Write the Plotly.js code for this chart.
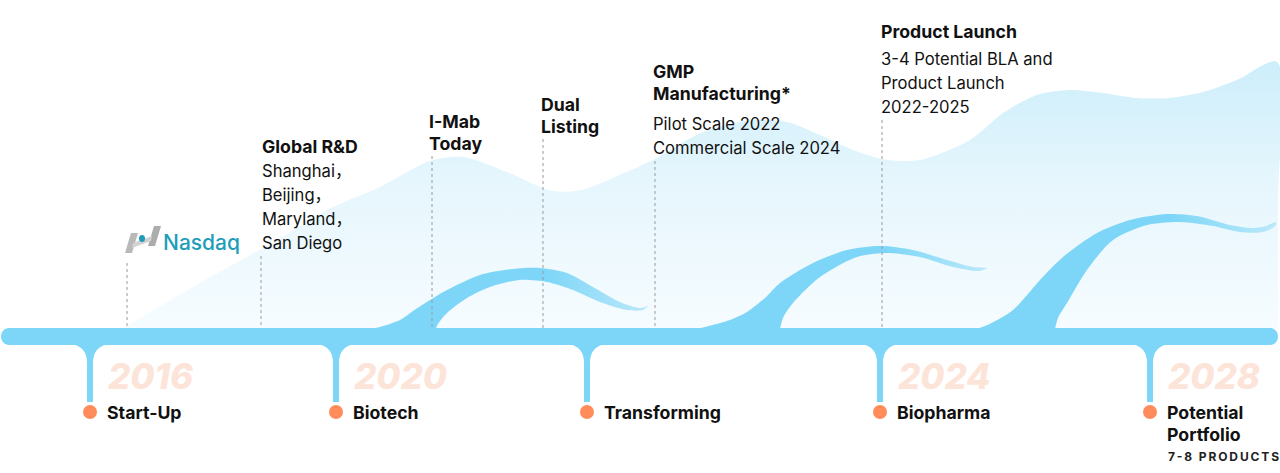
<!DOCTYPE html>
<html>
<head>
<meta charset="utf-8">
<script src="https://cdn.plot.ly/plotly-3.0.1.min.js"></script>
<style>html,body{margin:0;padding:0;background:#fff;}#chart{width:1280px;height:473px;}</style>
</head>
<body>
<div id="chart"></div>
<script>
// ---------------- DATA ----------------
// Timeline stages (below the bar)
const stageYears = ['2016', '2020', '', '2024', '2028'];
const stageNames = [['Start-Up'], ['Biotech'], ['Transforming'], ['Biopharma'], ['Potential', 'Portfolio']];
const stageNotes = ['', '', '', '', '7-8 PRODUCTS'];
const stageAt    = [90, 336, 587, 880, 1150];          // position along the timeline

// Milestones (above the bar)
const eventAt      = [127, 261, 432, 543, 655, 882];   // position along the timeline
const eventTitles  = [[], ['Global R&amp;D'], ['I-Mab', 'Today'], ['Dual', 'Listing'], ['GMP', 'Manufacturing*'], ['Product Launch']];
const eventDetails = [[], ['Shanghai，', 'Beijing，', 'Maryland，', 'San Diego'], [], [], ['Pilot Scale 2022', 'Commercial Scale 2024'], ['3-4 Potential BLA and', 'Product Launch', '2022-2025']];
const eventLogo    = ['Nasdaq', '', '', '', '', ''];

// Background growth wave (top edge)
const waveX = [120, 200, 270, 333, 380, 430, 463, 507, 553, 582, 615, 653, 703, 753, 787, 820, 853, 887, 920, 970, 1003, 1037, 1070, 1103, 1137, 1170, 1203, 1237, 1277];
const waveY = [330, 283, 244, 207, 187, 161, 157, 172, 191, 190, 177, 160, 132, 120, 122, 135, 150, 160, 160, 140, 113, 95, 90, 93, 98, 98, 92, 80, 62];

// Ribbons rising from the timeline (upper edge, then lower edge back)
const ribbon1X = [350, 380, 400, 413, 430, 447, 480, 513, 540, 567, 593, 620, 640, 648, 643, 627, 600, 573, 547, 520, 490, 467, 447, 438, 434];
const ribbon1Y = [333, 327, 320, 311, 300, 290, 275, 269, 268, 273, 287, 302, 308, 306, 310, 310, 302, 290, 282, 280, 287, 298, 313, 324, 334];
const ribbon2X = [680, 705, 730, 747, 765, 780, 813, 847, 880, 913, 947, 973, 987, 980, 953, 920, 887, 857, 820, 793, 783, 779];
const ribbon2Y = [333, 327, 320, 312, 298, 283, 263, 250, 246, 250, 260, 267, 268, 271, 267, 257, 253, 257, 277, 303, 318, 334];
const ribbon3X = [960, 985, 1013, 1040, 1063, 1097, 1130, 1167, 1197, 1230, 1253, 1266, 1276, 1275, 1263, 1240, 1213, 1180, 1147, 1113, 1087, 1067, 1058, 1054];
const ribbon3Y = [333, 326, 310, 280, 257, 233, 220, 214, 216, 225, 228, 226, 222, 226, 232, 232, 226, 222, 225, 240, 270, 303, 318, 334];

// ---------------- STYLE / LAYOUT CONSTANTS ----------------
const BAR_TOP = 328, BAR_BOT = 345, BAR_L = 1, BAR_R = 1278;
const STEM_BOT = 402, DOT_Y = 412, YEAR_Y = 376;
const BLUE = '#7DD6F7', ORANGE = '#FF8C5A', INK = '#111111', YEAR_C = '#FDE4D8';
const FONT = 'Inter, "Noto Sans", "Noto Sans CJK SC", sans-serif';
const eventTop    = [null, 146, 121, 104, 71, 31];     // y of first title line per milestone
const eventDetTop = [null, 171, null, null, 124, 59];  // y of first detail line per milestone
const eventDx     = [0, 0, -4, -3, -3, -2];            // text offset from leader line
const TITLE_LH = 22, DETAIL_LH = 24;
const HEAD_SIZE = 17.7, BODY_SIZE = 16.6, STAGE_SIZE = 17.7;

const traces = [];
const shapes = [];
const annotations = [];

function txt(x, y, text, size, weight, color, style) {
  annotations.push({
    x: x, y: y, xref: 'x', yref: 'y', text: text, showarrow: false,
    xanchor: 'left', yanchor: 'middle', borderpad: 0,
    font: {family: FONT, size: size, weight: weight, color: color, style: style || 'normal'}
  });
}

// Background wave
traces.push({
  x: waveX.concat([1278, 1278]), y: waveY.concat([200, 330]),
  mode: 'lines', fill: 'toself', line: {width: 0, shape: 'spline', smoothing: 0.8},
  fillcolor: '#E4F5FD',
  fillgradient: {type: 'vertical', start: 60, stop: 330, colorscale: [[0, '#CCEEFB'], [0.45, '#E6F6FD'], [1, '#F6FCFF']]},
  hoverinfo: 'skip'
});

// Ribbons
[[ribbon1X, ribbon1Y, 545, 650], [ribbon2X, ribbon2Y, 885, 988], [ribbon3X, ribbon3Y, 1170, 1277]].forEach(function (r) {
  traces.push({
    x: r[0], y: r[1], mode: 'lines', fill: 'toself',
    line: {width: 0, shape: 'spline', smoothing: 0.8},
    fillcolor: BLUE,
    fillgradient: {type: 'horizontal', start: r[2], stop: r[3], colorscale: [[0, BLUE], [1, '#BCE9FA']]},
    hoverinfo: 'skip'
  });
});

// Main timeline bar with rounded ends
const rr = (BAR_BOT - BAR_TOP) / 2, k = rr * 1.33;
const cL = BAR_L + rr, cR = BAR_R - rr;
shapes.push({
  type: 'path', xref: 'x', yref: 'y', layer: 'above', line: {width: 0}, fillcolor: BLUE,
  path: `M ${cL} ${BAR_TOP} L ${cR} ${BAR_TOP} C ${cR + k} ${BAR_TOP} ${cR + k} ${BAR_BOT} ${cR} ${BAR_BOT} ` +
        `L ${cL} ${BAR_BOT} C ${cL - k} ${BAR_BOT} ${cL - k} ${BAR_TOP} ${cL} ${BAR_TOP} Z`
});

// Stems, dots, stage labels, years
stageAt.forEach(function (x, i) {
  const w = 3, f = 18;
  shapes.push({
    type: 'path', xref: 'x', yref: 'y', layer: 'above', line: {width: 0}, fillcolor: BLUE,
    path: `M ${x - w - f} ${BAR_BOT - 1} Q ${x - w} ${BAR_BOT} ${x - w} ${BAR_BOT + f} L ${x - w} ${STEM_BOT} ` +
          `L ${x + w} ${STEM_BOT} L ${x + w} ${BAR_BOT + f} Q ${x + w} ${BAR_BOT} ${x + w + f} ${BAR_BOT - 1} Z`
  });
  if (stageYears[i]) {
    txt(x + 17, YEAR_Y, stageYears[i], 35, 800, YEAR_C, 'italic');
  }
  stageNames[i].forEach(function (s, j) {
    txt(x + 16, DOT_Y + j * 22, s, STAGE_SIZE, 700, INK);
  });
  if (stageNotes[i]) {
    const spaced = stageNotes[i].split('').join('\u2009');
    txt(x + 17, DOT_Y + stageNames[i].length * 22, spaced, 12, 700, '#222');
  }
});
traces.push({
  x: stageAt, y: stageAt.map(function () { return DOT_Y; }),
  mode: 'markers', marker: {size: 14, color: ORANGE, line: {width: 0}}, hoverinfo: 'skip'
});

// Milestones: text + dotted leader lines
eventAt.forEach(function (x, i) {
  let lineTop;
  if (eventLogo[i]) {
    // Nasdaq logo
    shapes.push({type: 'path', xref: 'x', yref: 'y', layer: 'above', line: {width: 0}, fillcolor: '#B9B9B9',
      path: `M ${x - 2} 253 L ${x + 4} 233 L ${x + 11} 233 L ${x + 5} 253 Z`});
    shapes.push({type: 'path', xref: 'x', yref: 'y', layer: 'above', line: {width: 0}, fillcolor: '#ACACAC',
      path: `M ${x + 21} 246 L ${x + 27} 226 L ${x + 34} 226 L ${x + 28} 246 Z`});
    shapes.push({type: 'path', xref: 'x', yref: 'y', layer: 'above', line: {width: 0}, fillcolor: '#D2D2D2',
      path: `M ${x + 6} 243 L ${x + 25} 236 L ${x + 24} 241 L ${x + 5} 248 Z`});
    shapes.push({type: 'circle', xref: 'x', yref: 'y', layer: 'above', line: {width: 0}, fillcolor: '#1E9DBA',
      x0: x + 12, x1: x + 18, y0: 235, y1: 242});
    txt(x + 35, 242, eventLogo[i], 21, 500, '#1E9DBA');
    lineTop = 263;
  } else {
    let y = eventTop[i];
    eventTitles[i].forEach(function (s, j) {
      y = eventTop[i] + j * TITLE_LH;
      txt(x + eventDx[i], y, s, HEAD_SIZE, 700, INK);
    });
    eventDetails[i].forEach(function (s, j) {
      y = eventDetTop[i] + j * DETAIL_LH;
      txt(x + eventDx[i], y, s, BODY_SIZE, 400, INK);
    });
    lineTop = y + 13;
  }
  shapes.push({type: 'line', xref: 'x', yref: 'y', layer: 'above', x0: x, x1: x, y0: lineTop, y1: BAR_TOP,
    line: {color: '#9A9A9A', width: 1, dash: 'dot'}});
});

const layout = {
  width: 1280, height: 473,
  margin: {l: 0, r: 0, t: 0, b: 0, pad: 0},
  paper_bgcolor: '#ffffff', plot_bgcolor: '#ffffff',
  showlegend: false,
  xaxis: {range: [0, 1280], visible: false, fixedrange: true},
  yaxis: {range: [473, 0], visible: false, fixedrange: true},
  shapes: shapes, annotations: annotations
};
Plotly.newPlot('chart', traces, layout, {staticPlot: true, displayModeBar: false});
</script>
</body>
</html>
